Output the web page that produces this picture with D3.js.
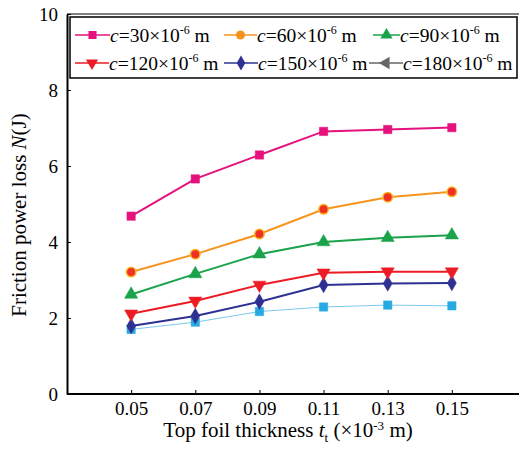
<!DOCTYPE html>
<html>
<head>
<meta charset="utf-8">
<script src="https://cdn.jsdelivr.net/npm/d3@7"></script>
<style>
  body { margin: 0; background: #fff; }
  text { font-family: "Liberation Serif", "Times New Roman", serif; fill: #000; }
</style>
</head>
<body>
<div id="chart"></div>
<script>
// data
const thickness = [0.05, 0.07, 0.09, 0.11, 0.13, 0.15];
const c30 = [4.68, 5.66, 6.29, 6.91, 6.96, 7.01];
const c60 = [3.21, 3.68, 4.21, 4.86, 5.18, 5.32];
const c90 = [2.62, 3.16, 3.68, 4.0, 4.11, 4.18];
const c120 = [2.11, 2.45, 2.87, 3.19, 3.22, 3.22];
const c150 = [1.79, 2.05, 2.43, 2.87, 2.91, 2.92];
const c180 = [1.70, 1.89, 2.17, 2.29, 2.34, 2.32];
const yTicks = [0, 2, 4, 6, 8, 10];

const width = 519, height = 454;
const margin = { top: 14, right: 3, bottom: 60, left: 67 };
const serif = "'Liberation Serif', 'Times New Roman', serif";

const series = [
    { label: "30", values: c30, color: "#e5127d", fill: "#e5127d", stroke: "#e5127d", symbol: d3.symbolSquare, rot: 0, lw: 2 },
    { label: "60", values: c60, color: "#f7941d", fill: "#ee3124", stroke: "#f9b21b", symbol: d3.symbolCircle, rot: 0, lw: 2, legendFill: "#f7941d" },
    { label: "90", values: c90, color: "#1aa34a", fill: "#1aa34a", stroke: "#1aa34a", symbol: d3.symbolTriangle, rot: 0, lw: 2 },
    { label: "120", values: c120, color: "#ed1c24", fill: "#ed1c24", stroke: "#ed1c24", symbol: d3.symbolTriangle, rot: 180, lw: 2 },
    { label: "150", values: c150, color: "#2e3192", fill: "#2e3192", stroke: "#2e3192", symbol: d3.symbolDiamond, rot: 0, lw: 2 },
    { label: "180", values: c180, color: "#7cc8ee", fill: "#27aae1", stroke: "#27aae1", symbol: d3.symbolSquare, rot: 0, lw: 1,
      legendColor: "#666", legendSymbol: d3.symbolTriangle, legendRot: -90 }
];

const x = d3.scaleLinear().domain([0.03, 0.17]).range([margin.left, width - margin.right]);
const y = d3.scaleLinear().domain([0, 10]).range([height - margin.bottom, margin.top]);

const svg = d3.select("#chart").append("svg")
    .attr("width", width)
    .attr("height", height)
    .attr("font-family", serif);

// top frame line
svg.append("line")
    .attr("x1", margin.left).attr("x2", width)
    .attr("y1", margin.top).attr("y2", margin.top)
    .attr("stroke", "#000").attr("stroke-width", 1.2);

// axes
const xAxis = d3.axisBottom(x).tickValues(thickness).tickFormat(d3.format(".2f"))
    .tickSizeInner(-4).tickSizeOuter(0).tickPadding(8);
const gx = svg.append("g")
    .attr("transform", `translate(0,${height - margin.bottom})`)
    .call(xAxis)
    .attr("font-family", serif);
gx.select(".domain").attr("stroke-width", 2).attr("d", `M${margin.left},0H${width}`);
gx.selectAll("text").style("font-size", "19px");

const yAxis = d3.axisLeft(y).tickValues(yTicks)
    .tickSizeInner(-4).tickSizeOuter(0).tickPadding(9);
const gy = svg.append("g")
    .attr("transform", `translate(${margin.left},0)`)
    .call(yAxis)
    .attr("font-family", serif);
gy.select(".domain").attr("stroke-width", 2);
gy.selectAll("text").style("font-size", "19px");

// axis titles
const xt = svg.append("text")
    .attr("x", 288)
    .attr("y", 437)
    .attr("text-anchor", "middle")
    .style("font-size", "21px");
xt.append("tspan").text("Top foil thickness ");
xt.append("tspan").style("font-style", "italic").text("t");
xt.append("tspan").attr("dy", 5).style("font-size", "13px").text("t");
xt.append("tspan").attr("dy", -5).text(" (×10");
xt.append("tspan").attr("dy", -7).style("font-size", "13px").text("-3");
xt.append("tspan").attr("dy", 7).text(" m)");

const yt = svg.append("text")
    .attr("transform", "translate(26,215) rotate(-90)")
    .attr("text-anchor", "middle")
    .style("font-size", "21px");
yt.append("tspan").text("Friction power loss ");
yt.append("tspan").style("font-style", "italic").text("N");
yt.append("tspan").text("(J)");

// lines and markers
const line = d3.line().x((d, i) => x(thickness[i])).y(d => y(d));

series.slice().reverse().forEach(s => {
    svg.append("path")
        .datum(s.values)
        .attr("fill", "none")
        .attr("stroke", s.color)
        .attr("stroke-width", s.lw)
        .attr("d", line);

    svg.selectAll(null)
        .data(s.values)
        .enter().append("path")
        .attr("d", d3.symbol().type(s.symbol).size(s.symbol === d3.symbolTriangle ? 75 : 70))
        .attr("transform", (d, i) => `translate(${x(thickness[i])},${y(d)}) rotate(${s.rot})`)
        .attr("fill", s.fill)
        .attr("stroke", s.stroke)
        .attr("stroke-width", s.symbol === d3.symbolCircle ? 1.5 : 0.5);
});

// legend
const legend = svg.append("g");
legend.append("rect")
    .attr("x", 70).attr("y", 17)
    .attr("width", 447).attr("height", 61)
    .attr("fill", "#fff")
    .attr("stroke", "#000")
    .attr("stroke-width", 1.5);

// [line start, line end, row y]
const legendPos = [
    [75, 110, 35], [224, 257, 35], [373, 400, 35],
    [75, 109, 63], [224, 258, 63], [369, 403, 63]
];

series.forEach((s, i) => {
    const [x0, x1, ly] = legendPos[i];
    const col = s.legendColor || s.color;
    const g = legend.append("g").attr("transform", `translate(0,${ly})`);
    g.append("line")
        .attr("x1", x0).attr("x2", x1)
        .attr("y1", 0).attr("y2", 0)
        .attr("stroke", col)
        .attr("stroke-width", 1.5);
    g.append("path")
        .attr("d", d3.symbol().type(s.legendSymbol || s.symbol).size(65))
        .attr("transform", `translate(${(x0 + x1) / 2},0) rotate(${s.legendRot !== undefined ? s.legendRot : s.rot})`)
        .attr("fill", s.legendColor || s.legendFill || s.fill);
    const t = g.append("text")
        .attr("x", x1)
        .attr("y", 7)
        .style("font-size", "19.5px");
    t.append("tspan").style("font-style", "italic").text("c");
    t.append("tspan").text(`=${s.label}×10`);
    t.append("tspan").attr("dy", -8).style("font-size", "12px").text("-6");
    t.append("tspan").attr("dy", 8).text(" m");
});
</script>
</body>
</html>
